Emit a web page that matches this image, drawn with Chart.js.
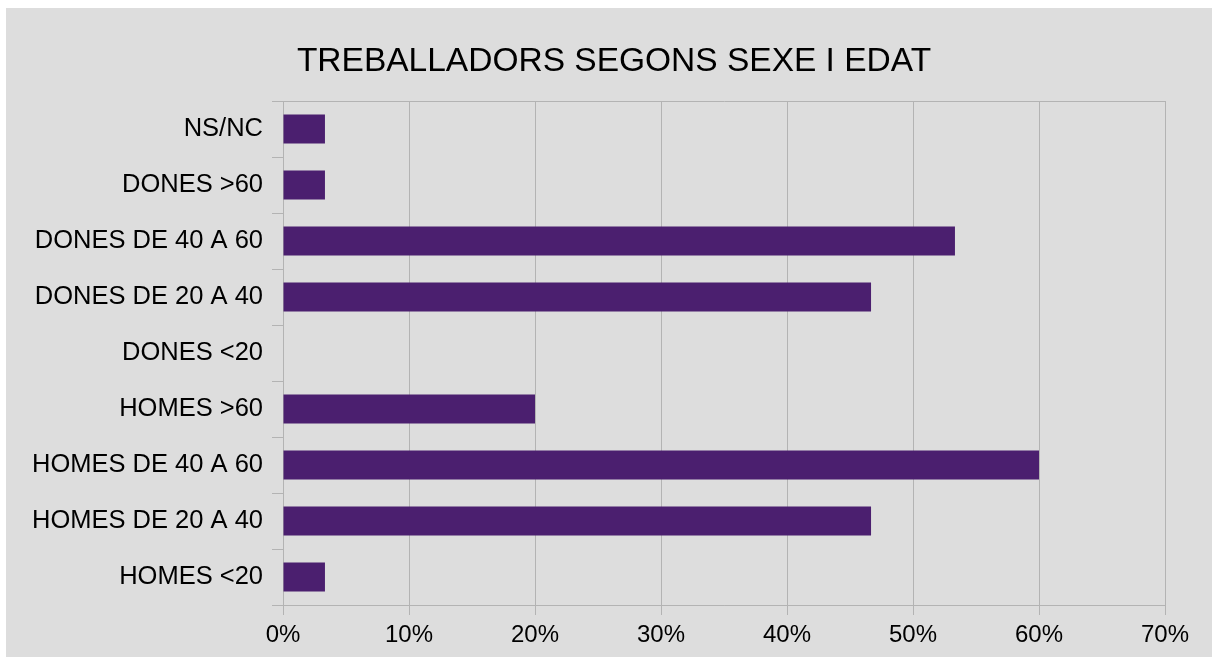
<!DOCTYPE html>
<html>
<head>
<meta charset="utf-8">
<script src="https://cdn.jsdelivr.net/npm/chart.js@4"></script>
<style>
  html, body { margin: 0; padding: 0; background: #ffffff; overflow: hidden; }
  #chart { position: absolute; left: 6px; top: 8px; background: #dddddd; }
</style>
</head>
<body>
<canvas id="chart" width="1216" height="649"></canvas>
<script>
const categories = [
  'NS/NC',
  'DONES >60',
  'DONES DE 40 A 60',
  'DONES DE 20 A 40',
  'DONES <20',
  'HOMES >60',
  'HOMES DE 40 A 60',
  'HOMES DE 20 A 40',
  'HOMES <20',
];
const percentages = [3.33, 3.33, 53.33, 46.67, 0, 20, 60, 46.67, 3.33];
const xTickMax = 70;
const xTickStep = 10;
const chartTitle = 'TREBALLADORS SEGONS SEXE I EDAT';

const gridGray = '#b3b3b3';
const fontFamily = "'Liberation Sans', Arial, sans-serif";

// title centred on the whole frame, not on the padded box the title plugin uses
const frameTitle = {
  id: 'frameTitle',
  afterDraw(chart) {
    const c = chart.ctx;
    c.save();
    c.fillStyle = '#000000';
    c.font = '33.5px ' + fontFamily;
    c.textAlign = 'center';
    c.textBaseline = 'alphabetic';
    c.fillText(chartTitle, 608, 63);
    c.restore();
  },
};

const ctx = document.getElementById('chart').getContext('2d');

new Chart(ctx, {
  type: 'bar',
  data: {
    labels: categories,
    datasets: [
      {
        label: 'Treballadors',
        data: percentages,
        backgroundColor: '#4b1f6f',
        borderWidth: 0,
        barPercentage: 0.52,
        categoryPercentage: 1.0,
      },
    ],
  },
  plugins: [frameTitle],
  options: {
    responsive: false,
    animation: false,
    indexAxis: 'y', // horizontal bars
    layout: {
      padding: { left: 0, right: 57, top: 93, bottom: 0 },
    },
    plugins: {
      legend: { display: false },
      tooltip: { enabled: false },
      title: { display: false },
    },
    scales: {
      x: {
        min: 0,
        max: xTickMax,
        afterFit: (scale) => { scale.height = 52; },
        ticks: {
          stepSize: xTickStep,
          padding: 6,
          color: '#000000',
          font: { family: fontFamily, size: 24 },
          callback: (v) => v + '%',
        },
        grid: {
          color: gridGray,
          lineWidth: 1,
          tickLength: 10,
          tickColor: gridGray,
        },
        border: { color: gridGray },
      },
      y: {
        afterFit: (scale) => { scale.width = 277; },
        ticks: {
          autoSkip: false,
          padding: 9,
          color: '#000000',
          font: { family: fontFamily, size: 25.5 },
        },
        grid: {
          // only the top and bottom lines run across, the rest are ticks
          color: (c) => (c.index === 0 || c.type === 'scale' ? gridGray : 'rgba(0,0,0,0)'),
          tickColor: gridGray,
          tickLength: 11,
          lineWidth: 1,
        },
        border: { color: gridGray },
      },
    },
  },
});
</script>
</body>
</html>
